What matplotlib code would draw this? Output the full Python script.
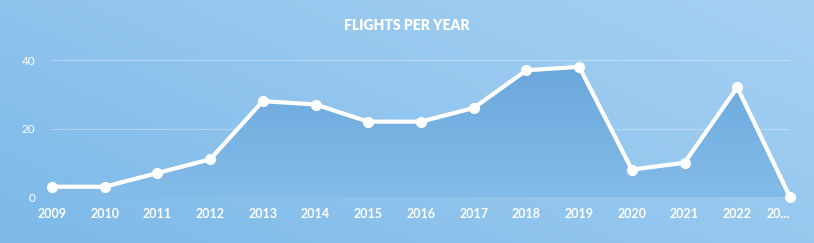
import numpy as np
import matplotlib
matplotlib.use("Agg")
import matplotlib.pyplot as plt
from matplotlib.colors import LinearSegmentedColormap
from matplotlib.patches import Polygon

years = ["2009", "2010", "2011", "2012", "2013", "2014", "2015", "2016",
         "2017", "2018", "2019", "2020", "2021", "2022", "2023"]
tick_labels = ["2009", "2010", "2011", "2012", "2013", "2014", "2015", "2016",
               "2017", "2018", "2019", "2020", "2021", "2022", "20..."]
flights = [3, 3, 7, 11, 28, 27, 22, 22, 26, 37, 38, 8, 10, 32, 0]
y_ticks = [0, 20, 40]

W, H = 814, 243
fig = plt.figure(figsize=(W / 100, H / 100), dpi=100)

# background gradient
bg = fig.add_axes([0, 0, 1, 1])
bg.set_axis_off()
yy, xx = np.mgrid[0:1:200j, 0:1:400j]
t = 0.6 * xx + 0.4 * (1 - yy)  # yy=0 top row
cmap_bg = LinearSegmentedColormap.from_list("bg", ["#7cb9e8", "#93c6ee", "#a6d0f2"])
bg.imshow(t, cmap=cmap_bg, aspect="auto", extent=[0, 1, 0, 1], origin="upper")
bg.set_xlim(0, 1); bg.set_ylim(0, 1)

x0, x1 = 52 / W, 790 / W
y_zero = 197
px_per = 137 / 40
ytop_val = 44
top_px = y_zero - ytop_val * px_per
ax = fig.add_axes([x0, 1 - y_zero / H, x1 - x0, (y_zero - top_px) / H])
ax.patch.set_alpha(0)
x = np.arange(len(years))
ax.set_xlim(0, len(years) - 1)
ax.set_ylim(0, ytop_val)

for yt in y_ticks:
    ax.axhline(yt, color="white", alpha=0.3, lw=0.8, zorder=1)

# gradient area fill
cmap_fill = LinearSegmentedColormap.from_list("fill", ["#84bce9", "#6aa7dc"])
grad = np.linspace(0, 1, 256).reshape(-1, 1)
im = ax.imshow(grad, cmap=cmap_fill, aspect="auto",
               extent=[0, len(years) - 1, 0, max(flights)], origin="lower", zorder=2)
verts = [(0, 0)] + list(zip(x, flights)) + [(len(years) - 1, 0)]
poly = Polygon(verts, closed=True, facecolor="none", edgecolor="none")
ax.add_patch(poly)
im.set_clip_path(poly)

ax.plot(x, flights, color="white", lw=3.0, marker="o", markersize=7,
        solid_joinstyle="round", zorder=4, clip_on=False)

for s in ax.spines.values():
    s.set_visible(False)
ax.set_yticks(y_ticks)
ax.set_yticklabels([str(v) for v in y_ticks], family="Lato", fontsize=8.5, color="white")
ax.set_xticks(x)
ax.set_xticklabels(tick_labels, family="Lato", fontweight="bold", fontsize=9, color="white")
ax.get_xticklabels()[-1].set_ha("right")
ax.tick_params(length=0, axis="y", pad=12)
ax.tick_params(length=0, axis="x", pad=8)

fig.text(0.5, 1 - 25 / H, "FLIGHTS PER YEAR", ha="center", va="center",
         family="Lato", fontweight="heavy", fontsize=10, color="white")

fig.savefig("out.png", dpi=100)
